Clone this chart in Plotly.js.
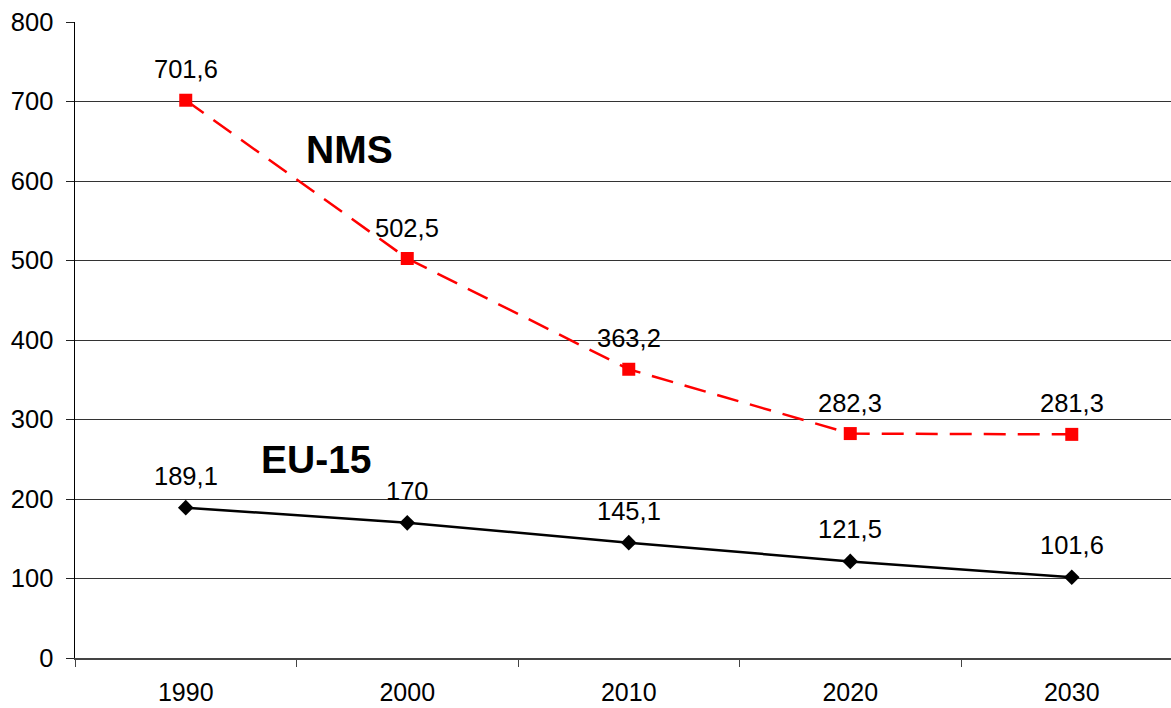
<!DOCTYPE html>
<html>
<head>
<meta charset="utf-8">
<script src="https://cdn.plot.ly/plotly-3.0.1.min.js"></script>
<style>html,body{margin:0;padding:0;background:#fff;overflow:hidden}#chart{width:1171px;height:708px}</style>
</head>
<body>
<div id="chart"></div>
<script>
var years = ['1990', '2000', '2010', '2020', '2030'];
var nms = [701.6, 502.5, 363.2, 282.3, 281.3];
var eu15 = [189.1, 170, 145.1, 121.5, 101.6];
var nmsLabels = ['701,6', '502,5', '363,2', '282,3', '281,3'];
var eu15Labels = ['189,1', '170', '145,1', '121,5', '101,6'];
var yTicks = [0, 100, 200, 300, 400, 500, 600, 700, 800];

var font = 'Liberation Sans, Arial, sans-serif';

var traces = [
  {
    x: years, y: nms, type: 'scatter', mode: 'lines+markers', name: 'NMS',
    line: {color: '#ff0000', width: 2.5, dash: '22px,12px'},
    marker: {symbol: 'square', size: 13, color: '#ff0000'},
    cliponaxis: false
  },
  {
    x: years, y: eu15, type: 'scatter', mode: 'lines+markers', name: 'EU-15',
    line: {color: '#000000', width: 2.5},
    marker: {symbol: 'diamond', size: 12, color: '#000000'},
    cliponaxis: false
  }
];

var annotations = [];
years.forEach(function (yr, i) {
  annotations.push({x: i, y: nms[i], xref: 'x', yref: 'y', text: nmsLabels[i], showarrow: false,
    yanchor: 'middle', yshift: 31, font: {family: font, size: 25.5, color: '#000'}});
  annotations.push({x: i, y: eu15[i], xref: 'x', yref: 'y', text: eu15Labels[i], showarrow: false,
    yanchor: 'middle', yshift: 32, font: {family: font, size: 25.5, color: '#000'}});
});
annotations.push({x: 0.737, y: 639, xref: 'x', yref: 'y', text: '<b>NMS</b>', showarrow: false,
  font: {family: font, size: 39, color: '#000'}});
annotations.push({x: 0.588, y: 250, xref: 'x', yref: 'y', text: '<b>EU-15</b>', showarrow: false,
  font: {family: font, size: 39, color: '#000'}});

var layout = {
  width: 1171, height: 708,
  margin: {l: 75, r: 0, t: 22, b: 50, pad: 0},
  paper_bgcolor: '#fff', plot_bgcolor: '#fff',
  showlegend: false,
  font: {family: font, size: 25, color: '#000'},
  xaxis: {
    type: 'category', range: [-0.5, 4.448], tickson: 'boundaries',
    ticks: 'outside', ticklen: 7, tickcolor: '#444', tickwidth: 1,
    showline: true, linecolor: '#444', linewidth: 1.5,
    showgrid: false, zeroline: false,
    ticklabelstandoff: 11,
    tickfont: {family: font, size: 25, color: '#000'}
  },
  yaxis: {
    range: [0, 800], tickvals: yTicks, ticktext: yTicks.map(String),
    ticks: 'outside', ticklen: 8, tickcolor: '#222', tickwidth: 1,
    showline: true, linecolor: '#000', linewidth: 1.5,
    showgrid: true, gridcolor: '#333', gridwidth: 1,
    zeroline: false,
    ticklabelstandoff: 7,
    tickfont: {family: font, size: 25.5, color: '#000'}
  },
  annotations: annotations
};

Plotly.newPlot('chart', traces, layout, {displayModeBar: false, staticPlot: true});
</script>
</body>
</html>
